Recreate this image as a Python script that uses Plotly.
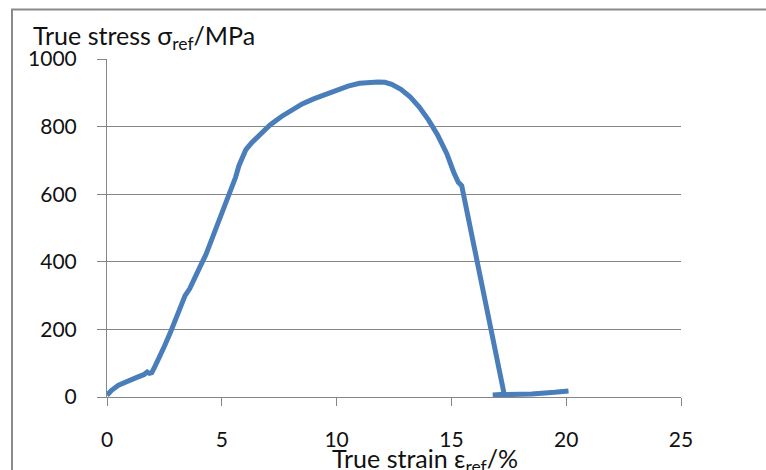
import plotly.graph_objects as go

strain = [0.0, 0.2, 0.5, 0.8, 1.0, 1.3, 1.6, 1.75, 1.85, 1.95, 2.1, 2.3, 2.5, 2.75, 3.0, 3.2, 3.4, 3.6, 3.8, 4.05, 4.3, 4.5, 4.75, 4.95, 5.2, 5.4, 5.6, 5.75, 5.9, 6.05, 6.3, 6.7, 7.1, 7.6, 8.0, 8.5, 9.0, 9.5, 10.0, 10.5, 11.0, 11.5, 11.8, 12.1, 12.4, 12.8, 13.2, 13.6, 14.0, 14.4, 14.8, 15.1, 15.3, 15.45, 17.3, 16.8, 17.5, 18.5, 19.5, 20.1]
stress = [5, 20, 35, 45, 52, 58, 66, 74, 70, 72, 92, 118, 150, 189, 232, 258, 300, 320, 352, 385, 420, 455, 492, 526, 570, 605, 650, 685, 712, 732, 752, 778, 805, 830, 848, 867, 882, 896, 910, 920, 928, 932, 932, 931, 925, 910, 888, 858, 820, 775, 720, 665, 635, 625, 8, 6, 6, 9, 14, 18]

y_ticks = [0, 200, 400, 600, 800, 1000]
x_ticks = [0, 5, 10, 15, 20, 25]

FONT = "Lato"

fig = go.Figure()
fig.add_trace(go.Scatter(x=strain, y=stress, mode="lines",
                         line=dict(color="#4A7EBB", width=5), hoverinfo="skip"))

fig.update_layout(
    width=766, height=470,
    margin=dict(l=107, r=85, t=59, b=73),
    paper_bgcolor="white", plot_bgcolor="white",
    showlegend=False,
    font=dict(family=FONT, color="#111", size=21),
    xaxis=dict(range=[0, 25], tickvals=x_ticks, showgrid=False, zeroline=False,
               showline=True, linecolor="#868686", linewidth=1,
               ticks="outside", ticklen=8, tickcolor="#868686",
               ticklabelstandoff=16, tickfont=dict(size=21)),
    yaxis=dict(range=[0, 1000], tickvals=y_ticks, showgrid=True, gridcolor="#868686",
               gridwidth=1, zeroline=False, showline=True, linecolor="#868686", linewidth=1,
               ticks="outside", ticklen=9, tickcolor="#868686",
               ticklabelstandoff=16, tickfont=dict(size=21)),
    annotations=[
        dict(text="True stress σ<sub>ref</sub>/MPa", xref="paper", yref="paper",
             x=(31 - 107) / 574, y=(397 - 37) / 338, xanchor="left", yanchor="middle",
             showarrow=False, font=dict(size=25, family=FONT, color="#111")),
        dict(text="True strain ε<sub>ref</sub>/%", xref="paper", yref="paper",
             x=(425 - 107) / 574, y=(397 - 460) / 338, xanchor="center", yanchor="middle",
             showarrow=False, font=dict(size=25, family=FONT, color="#111")),
    ],
    shapes=[
        dict(type="rect", xref="paper", yref="paper",
             x0=(12 - 107) / 574, y0=(397 - 500) / 338, x1=(800 - 107) / 574, y1=(397 - 9.5) / 338,
             line=dict(color="#8a8a8a", width=2), layer="below"),
    ],
)

fig.write_html("out.html", config={"displayModeBar": False},
               post_script="document.body.style.margin='0';document.body.style.overflow='hidden';")
